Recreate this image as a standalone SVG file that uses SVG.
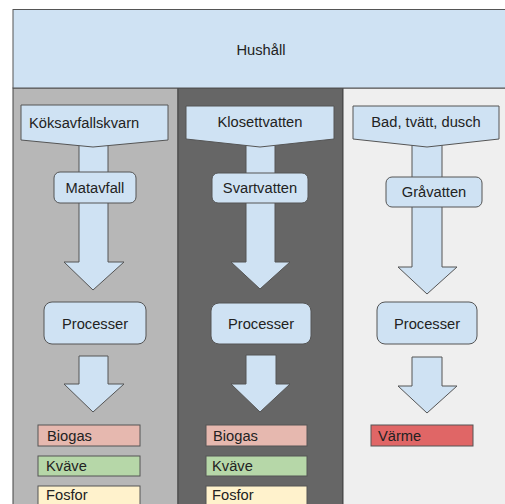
<svg xmlns="http://www.w3.org/2000/svg" width="505" height="504" viewBox="0 0 505 504">
<style>
text{font-family:"Liberation Sans",Arial,sans-serif;font-size:14.7px;fill:#222}
.c{text-anchor:middle}
.n{fill:#cfe2f3;stroke:#555;stroke-width:1}
.a{fill:#cfe2f3;stroke:#555;stroke-width:1;stroke-linejoin:miter}
.col{stroke:#444;stroke-width:1}
.o{stroke:#555;stroke-width:1}
</style>
<rect width="505" height="504" fill="#ffffff"/>
<g id="columns">
<rect class="col" x="13" y="88" width="165" height="420" fill="#b7b7b7"/>
<rect class="col" x="178" y="88" width="165" height="420" fill="#666666"/>
<rect class="col" x="343" y="88" width="170" height="420" fill="#efefef"/>
</g>
<g id="hushall">
<rect x="13" y="9.5" width="500" height="78.5" fill="#cfe2f3" stroke="#555"/>
<text class="c" x="261" y="55">Hushåll</text>
</g>
<g id="connectors">
<polygon class="a" points="79,140 108,140 108,262 124,262 93,290 64,262 79,262"/>
<polygon class="a" points="246,140 275,140 275,262 290,262 260,289 231,262 246,262"/>
<polygon class="a" points="412,140 442,140 442,267 457,267 427,294 398,267 412,267"/>
<polygon class="a" points="79,356 108,356 108,384 124,384 93,412 64,384 79,384"/>
<polygon class="a" points="246,355 276,355 276,384 290,384 260,412 231,384 246,384"/>
<polygon class="a" points="412,357 442,357 442,386 457,386 427,413 398,386 412,386"/>
</g>
<g id="koksavfallskvarn">
<polygon class="n" points="21,105 168,105 168,140 93,147 21,140"/>
<text x="29" y="128">Köksavfallskvarn</text>
</g>
<g id="klosettvatten">
<polygon class="n" points="186,106 334,106 334,139 260,147 186,139"/>
<text class="c" x="260" y="127">Klosettvatten</text>
</g>
<g id="bad">
<polygon class="n" points="353,106 499,106 499,139 427,147 353,139"/>
<text class="c" x="426" y="127">Bad, tvätt, dusch</text>
</g>
<g id="matavfall">
<rect class="n" x="54" y="172" width="82" height="31" rx="6"/>
<text class="c" x="95" y="192.5">Matavfall</text>
</g>
<g id="svartvatten">
<rect class="n" x="212" y="173" width="96" height="30" rx="6"/>
<text class="c" x="260" y="192.5">Svartvatten</text>
</g>
<g id="gravatten">
<rect class="n" x="386" y="177" width="96" height="30" rx="6"/>
<text class="c" x="434" y="197">Gråvatten</text>
</g>
<g id="processer1">
<rect class="n" x="44" y="302" width="102" height="42" rx="8"/>
<text class="c" x="95" y="328.5">Processer</text>
</g>
<g id="processer2">
<rect class="n" x="211" y="303" width="100" height="41" rx="8"/>
<text class="c" x="261" y="328.5">Processer</text>
</g>
<g id="processer3">
<rect class="n" x="377" y="302" width="100" height="42" rx="8"/>
<text class="c" x="427" y="328.5">Processer</text>
</g>
<g id="biogas1">
<rect class="o" x="38" y="425" width="102" height="21" fill="#e6b8af"/>
<text x="47" y="441">Biogas</text>
</g>
<g id="kvave1">
<rect class="o" x="38" y="456" width="102" height="20" fill="#b6d7a8"/>
<text x="46" y="471">Kväve</text>
</g>
<g id="fosfor1">
<rect class="o" x="38" y="486" width="102" height="24" fill="#fff2cc"/>
<text x="46" y="500">Fosfor</text>
</g>
<g id="biogas2">
<rect class="o" x="206" y="425" width="101" height="21" fill="#e6b8af"/>
<text x="213" y="441">Biogas</text>
</g>
<g id="kvave2">
<rect class="o" x="206" y="456" width="101" height="20" fill="#b6d7a8"/>
<text x="212" y="471">Kväve</text>
</g>
<g id="fosfor2">
<rect class="o" x="206" y="486" width="101" height="24" fill="#fff2cc"/>
<text x="212" y="500">Fosfor</text>
</g>
<g id="varme">
<rect class="o" x="371" y="425" width="102" height="21" fill="#e06666"/>
<text x="378" y="441">Värme</text>
</g>
</svg>
